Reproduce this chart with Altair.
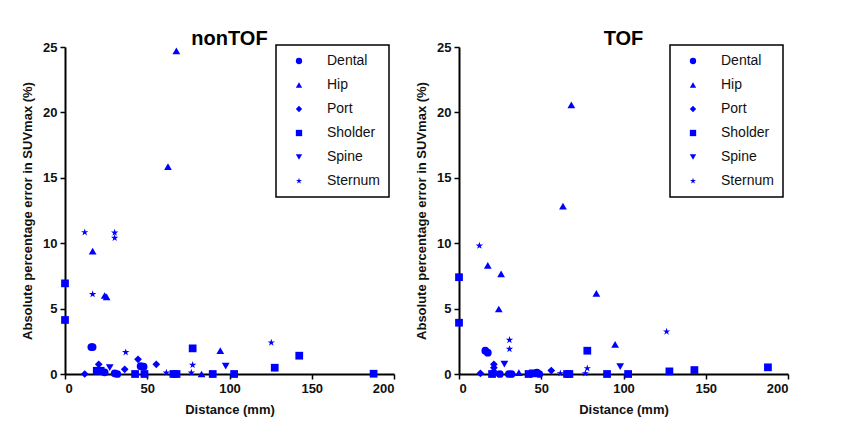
import altair as alt
import pandas as pd

sites = ["Dental", "Hip", "Port", "Sholder", "Spine", "Sternum"]
star = "M0,-1L0.2245,-0.309L0.951,-0.309L0.363,0.118L0.588,0.809L0,0.382L-0.588,0.809L-0.363,0.118L-0.951,-0.309L-0.2245,-0.309Z"
shapes = ["circle", "triangle-up", "diamond", "square", "triangle-down", star]

x_ticks = [0, 50, 100, 150, 200]
y_ticks = [0, 5, 10, 15, 20, 25]

# nonTOF panel
nontof_site = (["Dental"] * 7 + ["Hip"] * 7 + ["Port"] * 5 + ["Sholder"] * 14
               + ["Spine"] * 2 + ["Sternum"] * 9)
nontof_x = [16.0, 16.8, 46.0, 47.8, 30.2, 31.8, 24.1,
            67.7, 62.6, 16.8, 24.1, 25.3, 94.4, 83.0,
            44.4, 20.5, 36.3, 55.5, 12.0,
            0.0, 0.0, 77.6, 19.3, 21.7, 42.6, 48.3, 65.9, 67.8, 89.8, 102.8, 127.5, 142.4, 187.6,
            27.2, 97.7,
            12.0, 30.2, 30.2, 16.8, 36.9, 77.6, 61.6, 76.8, 125.4]
nontof_y = [2.06, 2.06, 0.60, 0.56, 0.05, 0.0, 0.13,
            24.7, 15.85, 9.4, 6.0, 5.9, 1.78, 0.0,
            1.12, 0.74, 0.36, 0.74, 0.0,
            6.93, 4.13, 1.96, 0.25, 0.25, 0.0, 0.0, 0.0, 0.0, 0.0, 0.0, 0.48, 1.4, 0.02,
            0.48, 0.61,
            10.83, 10.8, 10.4, 6.1, 1.66, 0.69, 0.1, 0.1, 2.4]

# TOF panel
tof_site = (["Dental"] * 7 + ["Hip"] * 8 + ["Port"] * 5 + ["Sholder"] * 13
            + ["Spine"] * 2 + ["Sternum"] * 7)
tof_x = [16.0, 17.5, 24.8, 30.3, 31.9, 47.4, 48.8,
         68.3, 63.2, 17.5, 25.6, 24.2, 83.5, 94.9, 36.4,
         21.2, 21.2, 56.1, 13.0, 21.2,
         0.0, 0.0, 78.0, 20.1, 42.3, 44.9, 65.7, 67.1, 90.0, 102.8, 127.9, 143.1, 187.8,
         27.6, 98.0,
         12.4, 30.7, 30.7, 78.0, 61.6, 76.8, 126.2]
tof_y = [1.78, 1.63, 0.0, 0.0, 0.0, 0.1, 0.0,
         20.57, 12.84, 8.31, 7.65, 4.97, 6.17, 2.27, 0.1,
         0.74, 0.48, 0.26, 0.05, 0.2,
         7.4, 3.92, 1.78, 0.0, 0.0, 0.05, 0.0, 0.0, 0.0, 0.0, 0.2, 0.3, 0.51,
         0.76, 0.56,
         9.81, 2.6, 1.91, 0.43, 0.05, 0.05, 3.24]

FONT = "Liberation Sans"


def panel(xs, ys, ss, title):
    df = pd.DataFrame({"Distance": xs, "Error": ys, "Site": ss})
    return alt.Chart(df).mark_point(
        filled=True, color="#0000ff", opacity=1, clip=False, size=60
    ).encode(
        x=alt.X("Distance:Q", scale=alt.Scale(domain=[0, 200], nice=False),
                axis=alt.Axis(values=x_ticks, title="Distance (mm)", format="d")),
        y=alt.Y("Error:Q", scale=alt.Scale(domain=[0, 25], nice=False),
                axis=alt.Axis(values=y_ticks, title="Absolute percentage error in SUVmax (%)",
                              format="d")),
        shape=alt.Shape("Site:N", scale=alt.Scale(domain=sites, range=shapes),
                        legend=alt.Legend(title=None, orient="none", legendX=211, legendY=-2)),
    ).properties(
        width=329, height=327,
        title=alt.TitleParams(title, fontSize=20, fontWeight="bold", font=FONT,
                              color="black", offset=-8, anchor="middle"),
    )


left = panel(nontof_x, nontof_y, nontof_site, "nonTOF")
right = panel(tof_x, tof_y, tof_site, "TOF")

chart = alt.hconcat(left, right, spacing=20).resolve_scale(
    shape="independent"
).resolve_legend(shape="independent").properties(
    padding={"left": 13, "top": 21, "right": 5, "bottom": 5}
).configure_view(
    stroke=None
).configure_axis(
    grid=False, domainColor="black", domainWidth=2, tickColor="black", tickWidth=1.5,
    tickSize=5, labelFont=FONT, labelFontSize=13, labelFontWeight="bold",
    labelColor="#111111", titleFont=FONT, titleFontSize=13, titleFontWeight="bold",
    titleColor="#111111", labelPadding=3
).configure_axisY(titlePadding=8).configure_axisX(titlePadding=8).configure_legend(
    strokeColor="black", strokeWidth=1.5, padding=9, rowPadding=10, labelFont=FONT,
    labelFontSize=14, labelColor="#111111", symbolSize=40, symbolOffset=7, labelOffset=21,
    symbolFillColor="#0000ff", symbolStrokeColor="#0000ff"
)

chart.save("out.html", embed_options={"renderer": "svg", "actions": False})
